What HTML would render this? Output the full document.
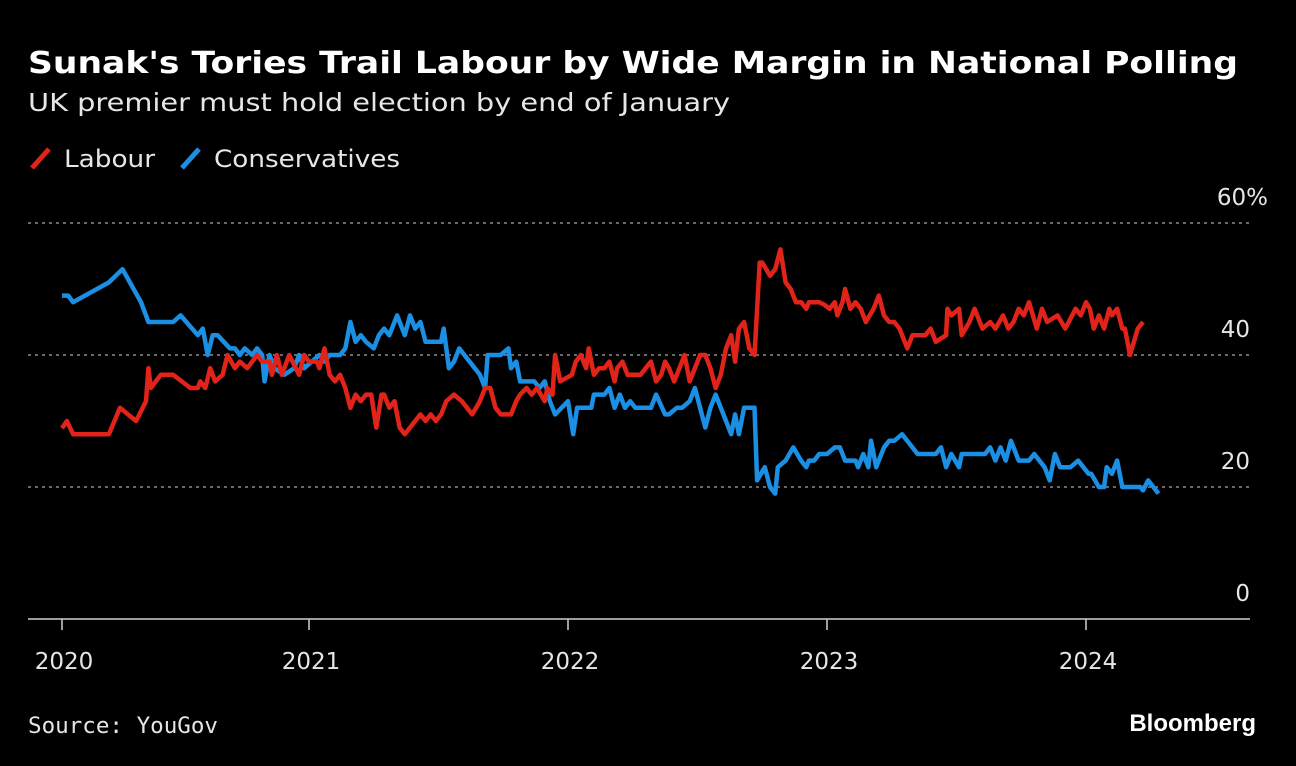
<!DOCTYPE html>
<html><head><meta charset="utf-8"><style>
html,body{margin:0;padding:0;background:#000;}
body{width:1296px;height:766px;overflow:hidden;position:relative;font-family:"DejaVu Sans","Liberation Sans",sans-serif;color:#e6e6e6;}
svg{position:absolute;left:0;top:0;}
</style></head><body>
<svg width="1296" height="766" font-family="'DejaVu Sans','Liberation Sans',sans-serif">
<text x="28" y="73" font-size="30" font-weight="bold" fill="#fff" textLength="1210" lengthAdjust="spacingAndGlyphs">Sunak's Tories Trail Labour by Wide Margin in National Polling</text>
<text x="28" y="111" font-size="25" fill="#e6e6e6" textLength="702" lengthAdjust="spacingAndGlyphs">UK premier must hold election by end of January</text>
<g>
<line x1="32" y1="168" x2="49" y2="149" stroke="#e2231a" stroke-width="5"/>
<text x="64" y="167" font-size="24" fill="#e6e6e6" textLength="91" lengthAdjust="spacingAndGlyphs">Labour</text>
<line x1="182" y1="168" x2="199" y2="149" stroke="#1a8fe3" stroke-width="5"/>
<text x="214" y="167" font-size="24" fill="#e6e6e6" textLength="186" lengthAdjust="spacingAndGlyphs">Conservatives</text>
</g>
<g id="grid"></g><g id="axis"></g><g id="lines"></g>
<text x="28" y="733" font-size="22" fill="#e6e6e6" font-family="'DejaVu Sans Mono','Liberation Mono',monospace" textLength="190" lengthAdjust="spacingAndGlyphs">Source: YouGov</text>
<text x="1256" y="731" font-size="24" font-weight="bold" fill="#fff" text-anchor="end" font-family="'Liberation Sans',sans-serif">Bloomberg</text>
</svg>
<script>
const yTicks=[0,20,40,60];
const yTickLabels=["0","20","40","60%"];
const xYears=[2020,2021,2022,2023,2024];
const labourDates=[2020.00,2020.02,2020.045,2020.19,2020.235,2020.30,2020.34,2020.35,2020.36,2020.40,2020.45,2020.52,2020.55,2020.56,2020.58,2020.60,2020.62,2020.65,2020.67,2020.70,2020.72,2020.75,2020.79,2020.81,2020.84,2020.85,2020.87,2020.89,2020.92,2020.96,2020.98,
2021.00,2021.03,2021.04,2021.06,2021.08,2021.10,2021.12,2021.14,2021.16,2021.18,2021.20,2021.22,2021.24,2021.26,2021.28,2021.29,2021.31,2021.33,2021.35,2021.37,2021.39,2021.41,2021.43,2021.45,2021.47,2021.49,2021.51,2021.53,2021.56,2021.59,2021.61,2021.63,2021.645,2021.66,2021.68,2021.70,2021.72,2021.74,2021.78,2021.80,2021.815,2021.84,2021.86,2021.88,2021.91,2021.92,2021.94,2021.95,2021.97,
2022.015,2022.03,2022.05,2022.07,2022.08,2022.10,2022.12,2022.14,2022.16,2022.18,2022.19,2022.21,2022.23,2022.28,2022.30,2022.32,2022.34,2022.36,2022.375,2022.39,2022.41,2022.43,2022.45,2022.47,2022.49,2022.51,2022.53,2022.55,2022.57,2022.59,2022.61,2022.63,2022.645,2022.66,2022.68,2022.70,2022.72,2022.74,2022.75,2022.78,2022.80,2022.82,2022.84,2022.86,2022.88,2022.90,2022.92,2022.93,2022.97,2022.99,
2023.01,2023.03,2023.04,2023.06,2023.07,2023.09,2023.11,2023.13,2023.15,2023.165,2023.18,2023.20,2023.22,2023.24,2023.26,2023.28,2023.31,2023.33,2023.38,2023.40,2023.42,2023.46,2023.465,2023.48,2023.51,2023.52,2023.55,2023.57,2023.60,2023.63,2023.65,2023.68,2023.70,2023.72,2023.74,2023.76,2023.78,2023.81,2023.83,2023.85,2023.89,2023.92,2023.96,2023.98,
2024.00,2024.015,2024.03,2024.05,2024.07,2024.09,2024.10,2024.12,2024.14,2024.15,2024.17,2024.20,2024.22];
const labourValues=[28.9,30,28,28,32,30,33,38,35,37,37,35,35,36,35,38,36,37,40,38,39,38,40,39,39,37,40,37,40,37,40,
39,39,38,41,37,36,37,35,32,34,33,34,34,29,34,34,32,33,29,28,29,30,31,30,31,30,31,33,34,33,32,31,32,33,35,35,32,31,31,33,34,35,34,35,33,35,34,40,36,
37,39,40,38,41,37,38,38,39,36,38,39,37,37,38,39,36,37,39,38,36,38,40,36,38,40,40,38,35,37,41,43,39,44,45,41,40,54,54,52,53,56,51,50,48,48,47,48,48,47.6,
47,48,46,48,50,47,48,47,45,46,47,49,46,45,45,44,41,43,43,44,42,43,47,46,47,43,45,47,44,45,44,46,44,45,47,46,48,44,47,45,46,44,47,46,
48,47,44,46,44,47,46,47,44,44,40,44,45];
const conDates=[2020.00,2020.025,2020.045,2020.19,2020.245,2020.32,2020.35,2020.36,2020.45,2020.48,2020.55,2020.57,2020.59,2020.61,2020.63,2020.68,2020.70,2020.72,2020.74,2020.77,2020.79,2020.81,2020.82,2020.84,2020.86,2020.90,2020.94,2020.96,2020.98,
2021.04,2021.06,2021.08,2021.12,2021.14,2021.16,2021.18,2021.20,2021.22,2021.25,2021.27,2021.29,2021.31,2021.34,2021.37,2021.39,2021.41,2021.43,2021.45,2021.51,2021.52,2021.54,2021.56,2021.58,2021.60,2021.62,2021.66,2021.68,2021.69,2021.74,2021.77,2021.78,2021.80,2021.815,2021.85,2021.87,2021.89,2021.91,2021.93,2021.95,
2022.00,2022.02,2022.035,2022.05,2022.09,2022.10,2022.13,2022.14,2022.16,2022.18,2022.20,2022.22,2022.24,2022.26,2022.32,2022.34,2022.375,2022.39,2022.42,2022.44,2022.47,2022.49,2022.51,2022.53,2022.55,2022.57,2022.59,2022.61,2022.63,2022.645,2022.66,2022.68,2022.72,2022.73,2022.76,2022.78,2022.80,2022.81,2022.84,2022.87,2022.90,2022.92,2022.93,2022.95,2022.97,
2023.00,2023.03,2023.05,2023.07,2023.09,2023.11,2023.12,2023.14,2023.16,2023.17,2023.19,2023.22,2023.24,2023.26,2023.29,2023.35,2023.42,2023.44,2023.46,2023.48,2023.51,2023.52,2023.61,2023.63,2023.65,2023.67,2023.69,2023.71,2023.74,2023.78,2023.80,2023.84,2023.86,2023.88,2023.90,2023.94,2023.97,
2024.01,2024.02,2024.05,2024.07,2024.08,2024.10,2024.12,2024.14,2024.21,2024.22,2024.24,2024.28];
const conValues=[49,49,48,51,53,48,45,45,45,46,43,44,40,43,43,41,41,40,41,40,41,40,36,40,38,37,38,40,38,
40,39,40,40,41,45,42,43,42,41,43,44,43,46,43,46,44,45,42,42,44,38,39,41,40,39,37,35,40,40,41,38,39,36,36,36,35,36,33,31,
33,28,32,32,32,34,34,34,35,32,34,32,33,32,32,34,31,31,32,32,33,35,32,29,32,34,32,30,28,31,28,32,32,21,23,20,19,23,24,26,24,23,24,24,25,
25,26,26,24,24,24,23,25,23,27,23,26,27,27,28,25,25,26,23,25,23,25,25,26,24,26,24,27,24,24,25,23,21,25,23,23,24,
22,22,20,20,23,22,24,20,20,19.5,21,19];

const NS='http://www.w3.org/2000/svg';
const xTickPx=[62,309,568,827,1086];
function xScale(d){
  for(let i=0;i<xYears.length-1;i++){
    if(d<=xYears[i+1]||i===xYears.length-2){
      return xTickPx[i]+(d-xYears[i])/(xYears[i+1]-xYears[i])*(xTickPx[i+1]-xTickPx[i]);
    }
  }
}
function yScale(v){return 619-v*6.6;}
function mk(tag,attrs,parent){const e=document.createElementNS(NS,tag);for(const k in attrs)e.setAttribute(k,attrs[k]);parent.appendChild(e);return e;}
const grid=document.getElementById('grid'),axis=document.getElementById('axis'),lines=document.getElementById('lines');
yTicks.forEach((v,i)=>{
  const y=yScale(v);
  if(v>0){
    const l=mk('line',{x1:28,x2:1250,y1:y,y2:y,stroke:'#8a8a8a','stroke-width':1.5,'stroke-dasharray':'3,4'},grid);
    
    
  }
  const isPct=yTickLabels[i].indexOf('%')>=0;
  const t=mk('text',{x:isPct?1268:1250,y:y-18,'font-size':23,fill:'#e6e6e6','text-anchor':'end'},grid);
  t.textContent=yTickLabels[i];
  
  
});
const base=mk('line',{x1:28,x2:1250,y1:619,y2:619,stroke:'#d0d0d0','stroke-width':1.5},axis);


xYears.forEach(yr=>{
  const x=xScale(yr);
  const tk=mk('line',{x1:x,x2:x,y1:619,y2:630,stroke:'#d0d0d0','stroke-width':1.5},axis);
  
  
  const t=mk('text',{x:x+2,y:669,'font-size':23,fill:'#e6e6e6','text-anchor':'middle'},axis);
  t.textContent=String(yr);
  
  
});
function path(dates,vals){return dates.map((d,i)=>(i?'L':'M')+xScale(d).toFixed(1)+','+yScale(vals[i]).toFixed(1)).join('');}
const pc=mk('path',{d:path(conDates,conValues),fill:'none',stroke:'#1a8fe3','stroke-width':4.5,'stroke-linejoin':'round'},lines);


const pl=mk('path',{d:path(labourDates,labourValues),fill:'none',stroke:'#e2231a','stroke-width':4.5,'stroke-linejoin':'round'},lines);


</script>
</body></html>
